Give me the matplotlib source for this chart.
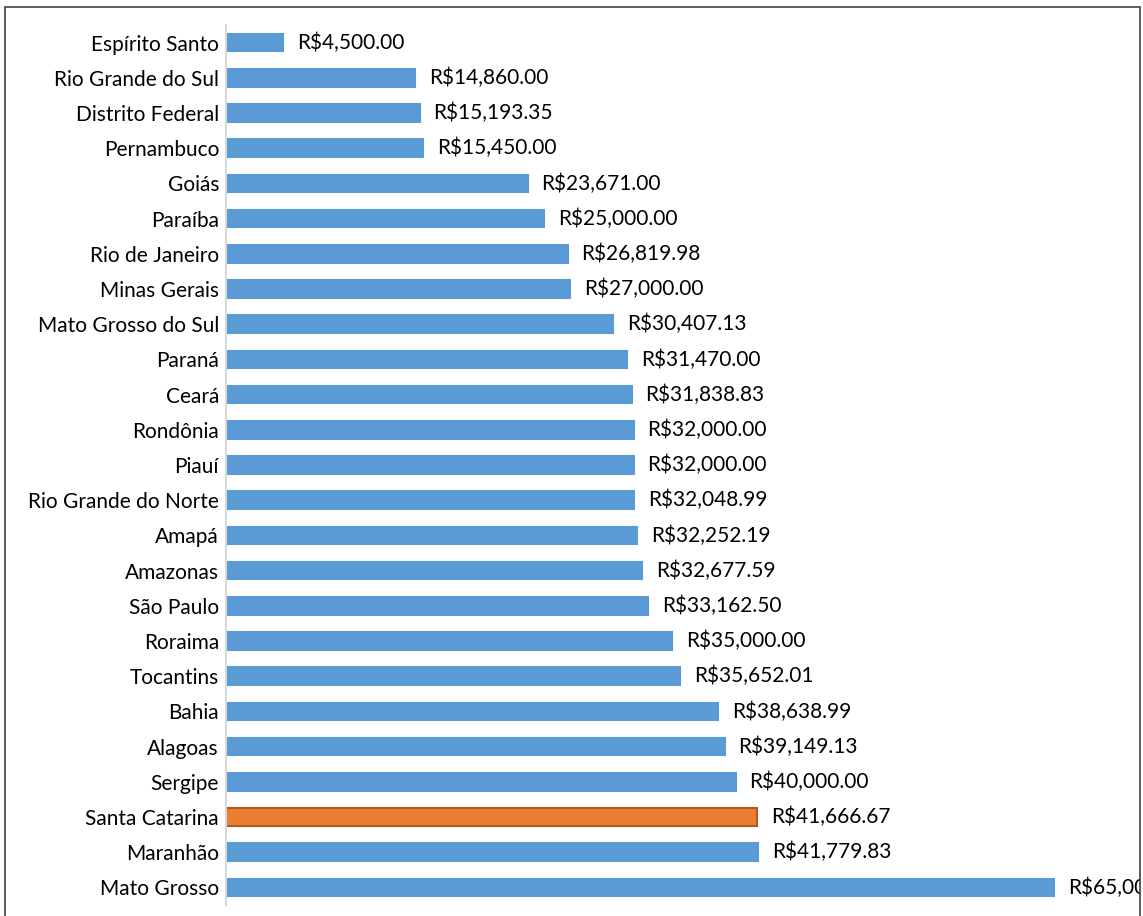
import matplotlib.pyplot as plt
from matplotlib.patches import Rectangle

# data (top to bottom as shown in the chart)
states = ['Espírito Santo', 'Rio Grande do Sul', 'Distrito Federal', 'Pernambuco', 'Goiás',
          'Paraíba', 'Rio de Janeiro', 'Minas Gerais', 'Mato Grosso do Sul', 'Paraná',
          'Ceará', 'Rondônia', 'Piauí', 'Rio Grande do Norte', 'Amapá',
          'Amazonas', 'São Paulo', 'Roraima', 'Tocantins', 'Bahia',
          'Alagoas', 'Sergipe', 'Santa Catarina', 'Maranhão', 'Mato Grosso']
values = [4500.00, 14860.00, 15193.35, 15450.00, 23671.00,
          25000.00, 26819.98, 27000.00, 30407.13, 31470.00,
          31838.83, 32000.00, 32000.00, 32048.99, 32252.19,
          32677.59, 33162.50, 35000.00, 35652.01, 38638.99,
          39149.13, 40000.00, 41666.67, 41779.83, 65000.00]
highlight = 'Santa Catarina'

plt.rcParams['font.family'] = ['Lato', 'DejaVu Sans']

W, H = 1143, 916
fig = plt.figure(figsize=(W / 100, H / 100), dpi=100)

# outer frame of the pasted chart
fig.patches.append(Rectangle((5 / W, -0.01), 1135 / W, 1.01 - 7 / H, transform=fig.transFigure,
                             fill=False, edgecolor='#404040', linewidth=1.2))

ax = fig.add_axes([226 / W, (H - 905) / H, (1140 - 226) / W, (905 - 25) / H])

ys = list(range(len(states)))[::-1]
colors = ['#ED7D31' if s == highlight else '#5B9BD5' for s in states]
edges = ['#AE5A21' if s == highlight else '#5B9BD5' for s in states]
ax.barh(ys, values, height=0.5, color=colors, edgecolor=edges, linewidth=1.5)

# value labels (the last one runs past the frame, as in the original)
for y, v in zip(ys, values):
    ax.annotate(f'R${v:,.2f}', (v, y), xytext=(10, 0), textcoords='offset points',
                va='center', ha='left', fontsize=15, annotation_clip=False, clip_on=True)

ax.set_ylim(-0.5, len(states) - 0.5)
ax.set_xlim(0, 71750)
ax.set_yticks(ys)
ax.set_yticklabels(states, fontsize=15)
ax.tick_params(axis='y', length=0, pad=5)
ax.set_xticks([])
for s in ['top', 'right', 'bottom']:
    ax.spines[s].set_visible(False)
ax.spines['left'].set_color('#D9D9D9')
ax.spines['left'].set_linewidth(1.5)

fig.savefig('out.png', dpi=100)
